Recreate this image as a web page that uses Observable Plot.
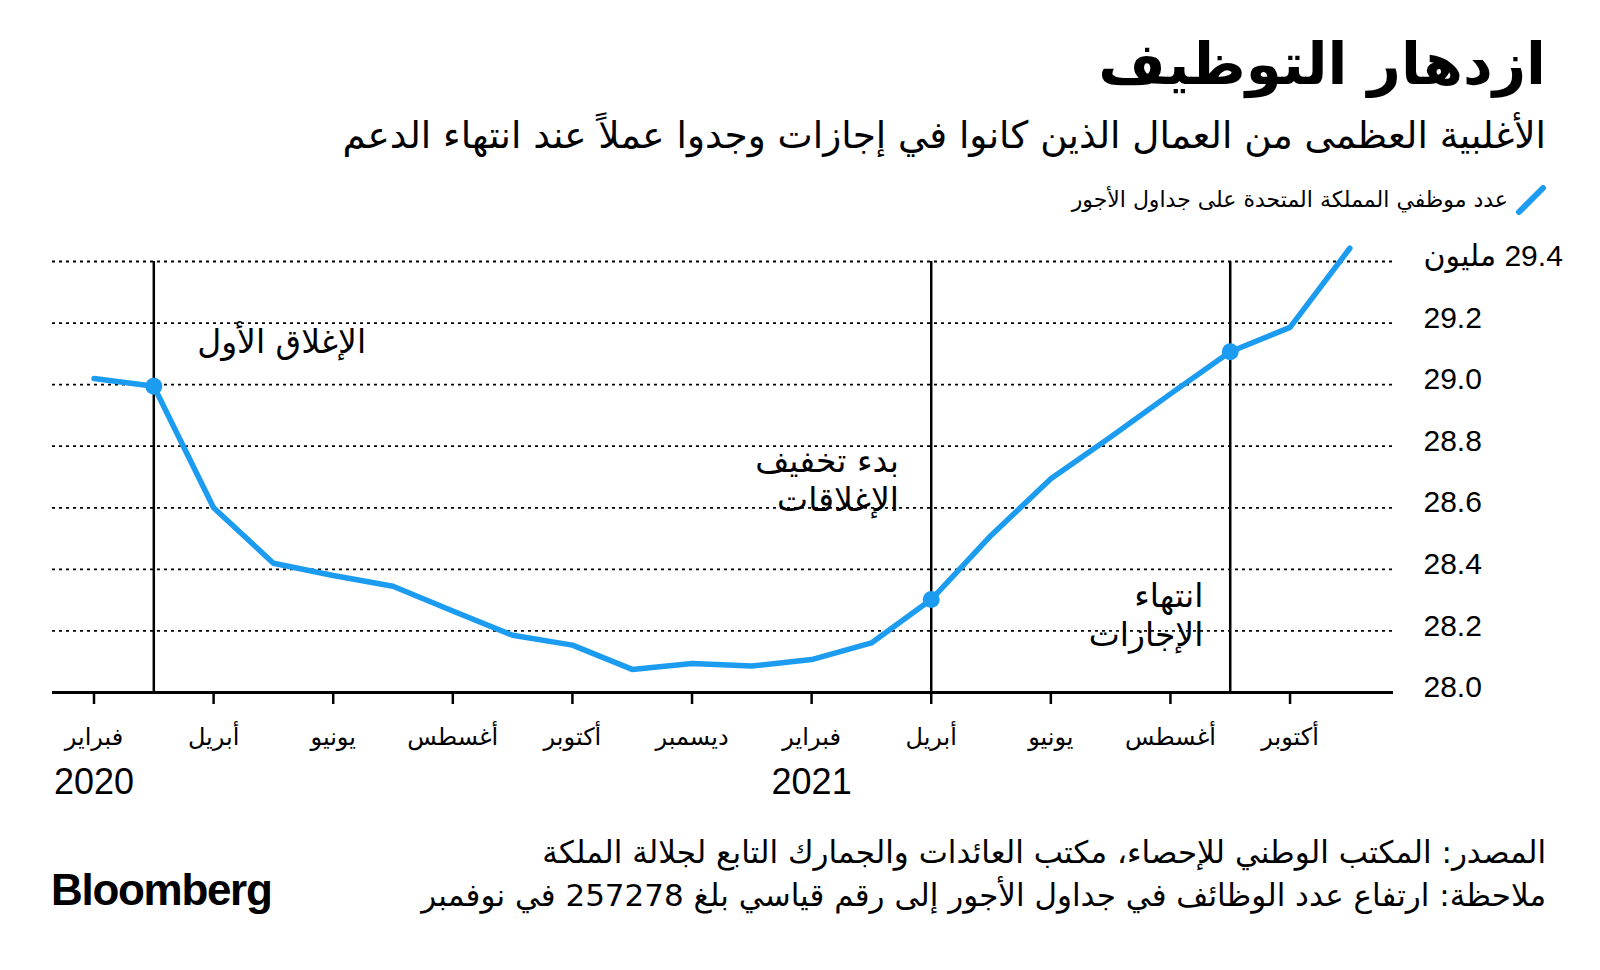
<!DOCTYPE html>
<html><head><meta charset="utf-8">
<script src="https://cdn.jsdelivr.net/npm/d3@7"></script>
<script src="https://cdn.jsdelivr.net/npm/@observablehq/plot@0.6"></script>
<style>
body{margin:0;background:#fff;}
#wrap{position:relative;width:1600px;height:970px;overflow:hidden;font-family:"DejaVu Sans",sans-serif;color:#000;background:#fff;}
.r{position:absolute;right:54px;direction:rtl;text-align:right;white-space:nowrap;line-height:1;}
#title{top:35px;font-size:58px;font-weight:bold;}
#subtitle{top:117px;font-size:37.4px;}
#legend{top:185px;right:54px;display:flex;align-items:center;gap:8px;direction:rtl;font-size:22px;}
#source{top:837px;font-size:31px;}
#note{top:880px;font-size:31px;}
#logo{position:absolute;left:51px;top:868px;font-family:"Liberation Sans",Arial,sans-serif;font-weight:bold;font-size:44px;letter-spacing:-1.3px;line-height:1;}
#chart{position:absolute;left:0;top:220px;}
</style></head>
<body><div id="wrap">
<div id="title" class="r">ازدهار التوظيف</div>
<div id="subtitle" class="r">الأغلبية العظمى من العمال الذين كانوا في إجازات وجدوا عملاً عند انتهاء الدعم</div>
<div id="legend" class="r"><svg width="30" height="30"><line x1="3" y1="27" x2="27" y2="3" stroke="#1c9cf0" stroke-width="6" stroke-linecap="round"/></svg><span>عدد موظفي المملكة المتحدة على جداول الأجور</span></div>
<div id="chart"></div>
<div id="source" class="r">المصدر: المكتب الوطني للإحصاء، مكتب العائدات والجمارك التابع لجلالة الملكة</div>
<div id="note" class="r">ملاحظة: ارتفاع عدد الوظائف في جداول الأجور إلى رقم قياسي بلغ 257278 في نوفمبر</div>
<div id="logo">Bloomberg</div>
</div>
<script>
// Months Feb 2020 .. Nov 2021 (index 0..21)
const monthNames = ["فبراير","مارس","أبريل","مايو","يونيو","يوليو","أغسطس","سبتمبر","أكتوبر","نوفمبر","ديسمبر","يناير",
  "فبراير","مارس","أبريل","مايو","يونيو","يوليو","أغسطس","سبتمبر","أكتوبر","نوفمبر"];
// UK payrolled employees, millions
const payrolled = [29.02, 28.995, 28.60, 28.42, 28.38, 28.345, 28.265, 28.186, 28.154, 28.075, 28.094, 28.086,
  28.107, 28.161, 28.302, 28.51, 28.694, 28.83, 28.97, 29.107, 29.186, 29.443];
const tickMonths = [0, 2, 4, 6, 8, 10, 12, 14, 16, 18, 20];
const yearLabels = ["2020", "2021"];
const yearMonths = [0, 12];
const eventMonths = [1, 14, 19];
const yTicks = [28.0, 28.2, 28.4, 28.6, 28.8, 29.0, 29.2, 29.4];
const unitLabel = "مليون";
const annotLabels = ["الإغلاق الأول", "بدء تخفيف\nالإغلاقات", "انتهاء\nالإجازات"];
const annotMonth = [4.55, 13.46, 18.55];
const annotValue = [29.143, 28.692, 28.254];

const BLUE = "#1c9cf0";
const series = payrolled.map((v, i) => ({i, v}));
const events = eventMonths.map(i => ({i, v: payrolled[i]}));
const years = yearLabels.map((t, k) => ({i: yearMonths[k], t}));
const annots = annotLabels.map((t, k) => ({x: annotMonth[k], y: annotValue[k], t}));
const topTick = yTicks[yTicks.length - 1];

const chart = Plot.plot({
  width: 1600, height: 590,
  marginLeft: 52, marginRight: 207, marginTop: 41, marginBottom: 118,
  style: {fontFamily: "'Liberation Sans', 'DejaVu Sans', sans-serif", color: "#000", background: "transparent", overflow: "visible"},
  x: {type: "linear", domain: [-0.694, 21.73]},
  y: {domain: [28, 29.4]},
  marks: [
    Plot.gridY(yTicks.slice(1), {stroke: "#000", strokeOpacity: 1, strokeWidth: 1.8, strokeDasharray: "3,4"}),
    Plot.ruleX(events, {x: "i", y1: 28, y2: 29.4, stroke: "#000", strokeWidth: 2.5}),
    Plot.ruleY([28], {stroke: "#000", strokeWidth: 3}),
    Plot.axisX({ticks: tickMonths, tickSize: 12, tickPadding: 23, strokeWidth: 2.5, fontSize: 24,
      fontFamily: "'DejaVu Sans', sans-serif", tickFormat: i => monthNames[i], label: null}),
    Plot.text(years, {x: "i", text: "t", frameAnchor: "bottom", dy: 101, fontSize: 36}),
    Plot.axisY({anchor: "right", ticks: yTicks, tickSize: 0, tickPadding: 30, fontSize: 30, dy: -5,
      tickFormat: d => d === topTick ? unitLabel + "\u200E 29.4" : d.toFixed(1), label: null}),
    Plot.line(series, {x: "i", y: "v", stroke: BLUE, strokeWidth: 5.5, clip: false}),
    Plot.dot(events, {x: "i", y: "v", r: 8.5, fill: BLUE}),
    Plot.text(annots, {x: "x", y: "y", text: "t", textAnchor: "end", lineAnchor: "middle", lineHeight: 1.18,
      fontSize: 33, fontFamily: "'DejaVu Sans', sans-serif"})
  ]
});
document.getElementById("chart").appendChild(chart);
</script>
</body></html>
